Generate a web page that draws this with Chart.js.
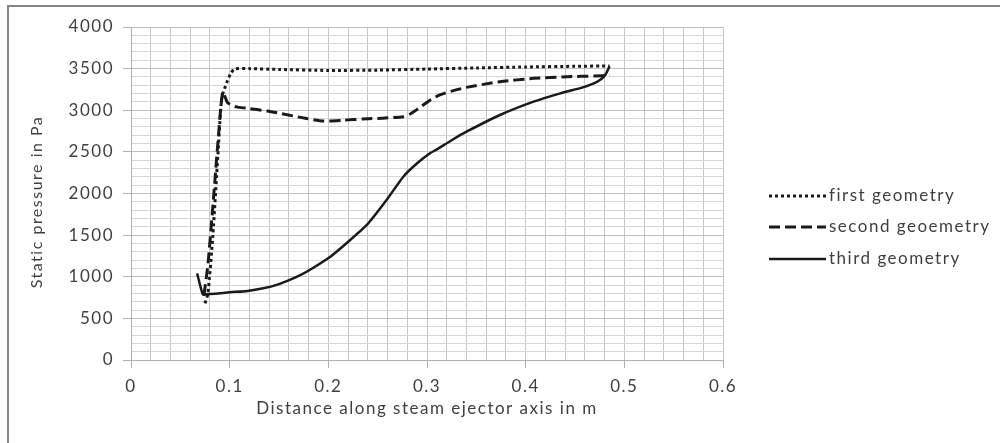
<!DOCTYPE html>
<html>
<head>
<meta charset="utf-8">
<script src="https://cdn.jsdelivr.net/npm/chart.js@4/dist/chart.umd.min.js"></script>
<style>
  html, body { margin: 0; padding: 0; background: #fff; }
  #wrap { position: relative; width: 1000px; height: 443px; }
  #frame { position: absolute; left: 7px; top: 5px; right: -10px; bottom: -10px;
           border-top: 2px solid #858585; border-left: 2px solid #858585; pointer-events: none; }
  canvas { position: absolute; left: 0; top: 0; }
</style>
</head>
<body>
<div id="wrap">
  <canvas id="chart" width="1000" height="443"></canvas>
  <div id="frame"></div>
</div>
<script>
// --- DONNÉES ---
const seriesNames = ['first geometry', 'second geoemetry', 'third geometry'];

// pression statique (Pa) le long de l'axe de l'éjecteur (m)
const firstX  = [0.075, 0.078, 0.083, 0.088, 0.092, 0.097, 0.101, 0.105, 0.12, 0.15, 0.2, 0.25, 0.3, 0.35, 0.4, 0.45, 0.485];
const firstY  = [680, 800, 1500, 2450, 3150, 3330, 3440, 3495, 3500, 3490, 3478, 3482, 3495, 3508, 3520, 3528, 3532];

const secondX = [0.074, 0.078, 0.083, 0.088, 0.093, 0.098, 0.107, 0.117, 0.138, 0.151, 0.178, 0.195, 0.215, 0.235, 0.255, 0.276, 0.283, 0.29, 0.303, 0.313, 0.325, 0.34, 0.374, 0.408, 0.442, 0.47, 0.485];
const secondY = [780, 1150, 1850, 2600, 3220, 3090, 3040, 3025, 2990, 2963, 2900, 2870, 2880, 2895, 2905, 2923, 2955, 3010, 3120, 3185, 3230, 3275, 3343, 3383, 3403, 3412, 3420];

const thirdX  = [0.067, 0.070, 0.073, 0.076, 0.085, 0.1, 0.118, 0.134, 0.147, 0.159, 0.17, 0.181, 0.202, 0.219, 0.239, 0.259, 0.276, 0.29, 0.303, 0.31, 0.325, 0.34, 0.374, 0.408, 0.435, 0.458, 0.469, 0.476, 0.481, 0.485];
const thirdY  = [1040, 900, 785, 790, 795, 813, 830, 861, 900, 953, 1010, 1081, 1241, 1409, 1622, 1922, 2202, 2363, 2483, 2530, 2640, 2742, 2943, 3103, 3203, 3275, 3323, 3370, 3430, 3530];

// axes
const xMin = 0, xMax = 0.6, xStep = 0.02, xMajor = 0.1;
const yMin = 0, yMax = 4000, yStep = 100, yMajor = 500;
const yTitle = 'Static pressure in Pa';

const FONT = 'Lato, "Open Sans", sans-serif';
const TEXT = '#3f3f3f';
const SPACING = '1.5px'; // le texte d'origine est très large

function toPoints(xs, ys) {
    return xs.map((x, i) => ({ x: x, y: ys[i] }));
}

function isMajor(v, major) {
    const r = v / major;
    return Math.abs(r - Math.round(r)) < 1e-6;
}

// espacement des lettres pour tout le canvas
const spacingPlugin = {
    id: 'spacing',
    beforeInit(chart) { chart.ctx.letterSpacing = SPACING; },
    beforeDraw(chart) { chart.ctx.letterSpacing = SPACING; }
};

// légende + titre de l'axe Y dessinés à la main
const legendPlugin = {
    id: 'sideLegend',
    afterDraw(chart) {
        const ctx = chart.ctx;
        const rows = [196, 227, 259];
        chart.data.datasets.forEach((ds, i) => {
            const y = rows[i];
            ctx.save();
            ctx.strokeStyle = ds.borderColor;
            ctx.lineWidth = ds.borderWidth;
            ctx.setLineDash(ds.borderDash || []);
            ctx.beginPath();
            ctx.moveTo(769, y);
            ctx.lineTo(826, y);
            ctx.stroke();
            ctx.setLineDash([]);
            ctx.fillStyle = TEXT;
            ctx.font = '17px ' + FONT;
            ctx.textBaseline = 'middle';
            ctx.textAlign = 'left';
            ctx.fillText(ds.label, 829, y);
            ctx.restore();
        });

        ctx.save();
        ctx.translate(37, 202);
        ctx.rotate(-Math.PI / 2);
        ctx.fillStyle = TEXT;
        ctx.font = '16px ' + FONT;
        ctx.textAlign = 'center';
        ctx.textBaseline = 'middle';
        ctx.fillText(yTitle, 0, 0);
        ctx.restore();
    }
};

new Chart(document.getElementById('chart'), {
    type: 'scatter',
    data: {
        datasets: [{
            label: seriesNames[0],
            data: toPoints(firstX, firstY),
            showLine: true,
            borderColor: '#1a1a1a',
            borderWidth: 3,
            borderDash: [3, 3],
            pointRadius: 0,
            tension: 0.2
        }, {
            label: seriesNames[1],
            data: toPoints(secondX, secondY),
            showLine: true,
            borderColor: '#1a1a1a',
            borderWidth: 3,
            borderDash: [11, 5],
            pointRadius: 0,
            tension: 0.2
        }, {
            label: seriesNames[2],
            data: toPoints(thirdX, thirdY),
            showLine: true,
            borderColor: '#1a1a1a',
            borderWidth: 2.5,
            pointRadius: 0,
            tension: 0.2
        }]
    },
    options: {
        responsive: false,
        animation: false,
        layout: { padding: { left: 0, top: 27, right: 277, bottom: 0 } },
        plugins: {
            legend: { display: false },
            tooltip: { enabled: false }
        },
        scales: {
            x: {
                type: 'linear',
                min: xMin, max: xMax,
                afterFit: s => { s.height = 83; },
                ticks: {
                    stepSize: xStep,
                    autoSkip: false,
                    maxRotation: 0,
                    padding: 8,
                    color: TEXT,
                    font: { family: FONT, size: 17 },
                    callback: v => isMajor(v, xMajor) ? String(Math.round(v * 10) / 10) : ''
                },
                grid: {
                    color: '#c6c6c6',
                    tickLength: 8,
                    tickColor: c => isMajor(c.tick.value, xMajor) ? '#b0b0b0' : 'rgba(0,0,0,0)'
                },
                border: { color: '#b0b0b0' },
                title: {
                    display: true,
                    text: 'Distance along steam ejector axis in m',
                    color: TEXT,
                    font: { family: FONT, size: 17 },
                    padding: { top: 0, bottom: 24 }
                }
            },
            y: {
                min: yMin, max: yMax,
                afterFit: s => { s.width = 131; },
                ticks: {
                    stepSize: yStep,
                    autoSkip: false,
                    padding: 9,
                    color: TEXT,
                    font: { family: FONT, size: 17 },
                    callback: v => isMajor(v, yMajor) ? String(v) : ''
                },
                grid: {
                    color: c => isMajor(c.tick.value, yMajor) ? '#bfbfbf' : '#d6d6d6',
                    tickLength: 8,
                    tickColor: c => isMajor(c.tick.value, yMajor) ? '#b0b0b0' : 'rgba(0,0,0,0)'
                },
                border: { color: '#b0b0b0' }
            }
        }
    },
    plugins: [spacingPlugin, legendPlugin]
});
</script>
</body>
</html>
